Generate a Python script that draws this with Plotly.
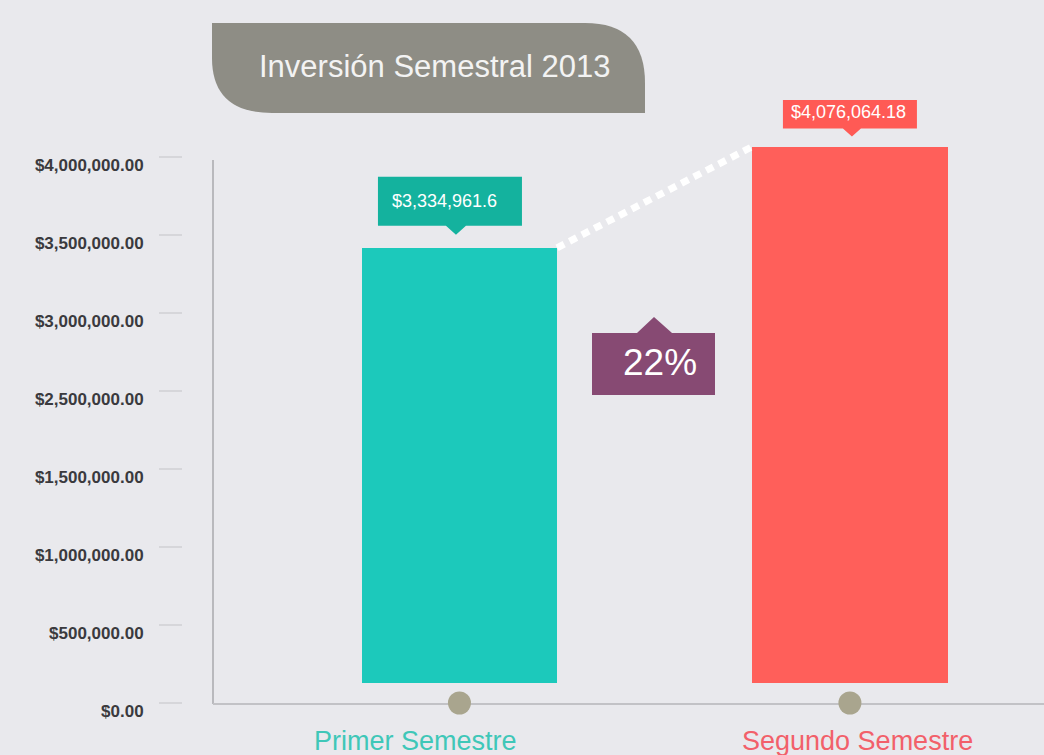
import plotly.graph_objects as go

# ---------------- data ----------------
categories = ["Primer Semestre", "Segundo Semestre"]
values = [3334961.6, 4076064.18]
value_labels = ["$3,334,961.6", "$4,076,064.18"]
tick_labels = ["$0.00", "$500,000.00", "$1,000,000.00", "$1,500,000.00",
               "$2,500,000.00", "$3,000,000.00", "$3,500,000.00", "$4,000,000.00"]
title_text = "Inversión Semestral 2013"

# ---------------- style / layout ----------------
W, H = 1044, 755
ML, MR, MT, MB = 183, 0, 100, 52
PW, PH = W - ML - MR, H - MT - MB
BG = "#e9e9ed"
bar_colors = ["#1cc9bb", "#ff5f5a"]
box_colors = ["#14b29e", "#ff5a55"]
cat_colors = ["#3fc7b8", "#f2606a"]
BAR_BASE = 150000
Y_TOP_VALUE = 4e6
y_max = Y_TOP_VALUE * PH / 546.0
tickvals = [i * Y_TOP_VALUE / (len(tick_labels) - 1) for i in range(len(tick_labels))]
X_RANGE = [-0.708, 1.497]


def pxx(px):
    return (px - ML) / PW


def pxy(py):
    return (MT + PH - py) / PH


fig = go.Figure()

fig.add_trace(go.Bar(
    x=categories, y=[v - BAR_BASE for v in values], base=BAR_BASE,
    width=0.5, marker=dict(color=bar_colors, line=dict(width=0)),
    hoverinfo="skip", showlegend=False))

fig.add_trace(go.Scatter(
    x=categories, y=[0, 0], mode="markers",
    marker=dict(size=23, color="#a9a58e"), cliponaxis=False,
    hoverinfo="skip", showlegend=False))

shapes = []
annotations = []

# axis lines
shapes.append(dict(type="line", xref="paper", yref="paper",
                   x0=pxx(213), x1=pxx(213), y0=pxy(160), y1=pxy(704),
                   line=dict(color="#b9b9bd", width=2), layer="below"))
shapes.append(dict(type="line", xref="paper", yref="paper",
                   x0=pxx(213), x1=1, y0=pxy(704), y1=pxy(704),
                   line=dict(color="#c2c2c6", width=2), layer="below"))

# dashed connector between bar tops
shapes.append(dict(type="line", xref="x", yref="y",
                   x0=0.25, y0=values[0], x1=0.75, y1=values[1],
                   line=dict(color="white", width=7, dash="8px,6px")))

# value label boxes (pixel-sized, anchored to bar tops)
box_styles = [
    dict(w=144, h=49, dx=-9.5, t=-3.5, g=13, th=9, b=10, tx=-14.5),
    dict(w=134, h=34, dx=0, t=2, g=10, th=8, b=9, tx=-1),
]
for i, (v, lab) in enumerate(zip(values, value_labels)):
    s = box_styles[i]
    yb = s["g"] + s["th"]
    yt = yb + s["h"]
    xl, xr = s["dx"] - s["w"] / 2, s["dx"] + s["w"] / 2
    path = (f"M{xl},{yb} L{s['t'] - s['b']},{yb} L{s['t']},{s['g']} "
            f"L{s['t'] + s['b']},{yb} L{xr},{yb} L{xr},{yt} L{xl},{yt} Z")
    shapes.append(dict(type="path", xref="x", yref="y",
                       xsizemode="pixel", ysizemode="pixel",
                       xanchor=i, yanchor=v, path=path,
                       fillcolor=box_colors[i], line=dict(width=0)))
    annotations.append(dict(x=i, y=v, xref="x", yref="y", text=lab,
                            showarrow=False, xshift=s["tx"],
                            yshift=yb + s["h"] / 2,
                            font=dict(family="Arial, Liberation Sans", size=18,
                                      color="white"),
                            xanchor="center", yanchor="middle"))

# growth badge
growth = round((values[1] / values[0] - 1) * 100)
badge_path = "M-62.7,0 L60.3,0 L60.3,62 L17.3,62 L-0.7,78 L-17.7,62 L-62.7,62 Z"
shapes.append(dict(type="path", xref="x", yref="paper",
                   xsizemode="pixel", ysizemode="pixel",
                   xanchor=0.5, yanchor=pxy(395), path=badge_path,
                   fillcolor="#874a73", line=dict(width=0)))
annotations.append(dict(x=0.5, y=pxy(362), xref="x", yref="paper",
                        text=f"{growth}%", showarrow=False, xshift=5,
                        font=dict(family="Arial, Liberation Sans", size=37,
                                  color="white"),
                        xanchor="center", yanchor="middle"))

# title tab
tp = (f"M{pxx(212)},{pxy(23)} L{pxx(585)},{pxy(23)} "
      f"Q{pxx(645)},{pxy(23)} {pxx(645)},{pxy(83)} "
      f"L{pxx(645)},{pxy(113)} L{pxx(272)},{pxy(113)} "
      f"Q{pxx(212)},{pxy(113)} {pxx(212)},{pxy(58)} Z")
shapes.append(dict(type="path", xref="paper", yref="paper", path=tp,
                   fillcolor="#8e8d85", line=dict(width=0)))
annotations.append(dict(x=pxx(435), y=pxy(66), xref="paper", yref="paper",
                        text=title_text, showarrow=False,
                        font=dict(family="Arial, Liberation Sans", size=31,
                                  color="#f3f3f3"),
                        xanchor="center", yanchor="middle"))

# category labels
cat_shift = [-43.5, 8]
for i, c in enumerate(categories):
    annotations.append(dict(x=i, y=pxy(741), xref="x", yref="paper", text=c,
                            showarrow=False, xshift=cat_shift[i],
                            font=dict(family="Arial, Liberation Sans", size=27,
                                      color=cat_colors[i]),
                            xanchor="center", yanchor="middle"))

fig.update_layout(
    width=W, height=H, autosize=False,
    margin=dict(l=ML, r=MR, t=MT, b=MB, pad=0),
    paper_bgcolor=BG, plot_bgcolor=BG,
    shapes=shapes, annotations=annotations,
    bargap=0,
    xaxis=dict(type="category", range=X_RANGE, showticklabels=False,
               showgrid=False, zeroline=False, showline=False, ticks="",
               fixedrange=True),
    yaxis=dict(range=[0, y_max], tickvals=tickvals, ticktext=tick_labels,
               showgrid=False, zeroline=False, showline=False,
               ticks="outside", ticklen=23, tickwidth=2, tickcolor="#d6d6da",
               ticklabelstandoff=12, ticklabelshift=8,
               tickfont=dict(family="Arial, Liberation Sans", size=17,
                             color="#3a3a3e", weight="bold"),
               fixedrange=True),
)

fig.write_html("out.html")
